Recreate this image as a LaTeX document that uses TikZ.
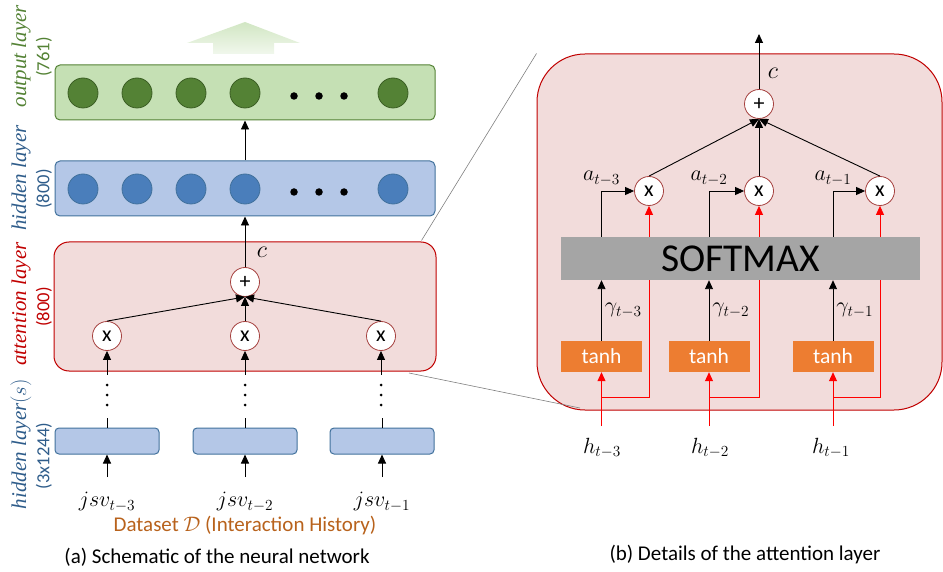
\documentclass[tikz,border=0pt]{standalone}
\usepackage{fix-cm}
\usepackage{amsmath}
\usepackage{fontspec}
\setmainfont{Carlito}
\newfontfamily\labfont{Liberation Serif}
\usepackage{tikz}
\usetikzlibrary{arrows.meta,calc,positioning}
\definecolor{attred}{HTML}{C00000}
\definecolor{attfill}{HTML}{F2DCDB}
\definecolor{opred}{HTML}{A5403E}
\definecolor{outfill}{HTML}{C5E0B4}
\definecolor{outgreen}{HTML}{548235}
\definecolor{outdark}{HTML}{3B5E24}
\definecolor{hidfill}{HTML}{B4C7E7}
\definecolor{hidline}{HTML}{41719C}
\definecolor{hidnode}{HTML}{4A7EBB}
\definecolor{hidtext}{HTML}{2E5C8A}
\definecolor{softgray}{HTML}{A5A5A5}
\definecolor{tanhorange}{HTML}{ED7D31}
\definecolor{databrown}{HTML}{B8621C}
\tikzset{
        layerbox/.style = {draw, rounded corners=5pt, line width=1pt,
            minimum width=380pt, minimum height=55pt},
        outbox/.style = {layerbox, fill=outfill, draw=outgreen},
        hidbox/.style = {layerbox, fill=hidfill, draw=hidline},
        inbox/.style = {draw=hidline, fill=hidfill, line width=1pt, rounded corners=4pt,
            minimum width=104pt, minimum height=26pt},
        outnode/.style = {circle, draw=outdark, fill=outgreen, line width=0.8pt, minimum size=30pt},
        hidnode/.style = {circle, draw=hidline, fill=hidnode, line width=0.8pt, minimum size=30pt},
        dotnode/.style = {circle, fill=black, inner sep=0pt, minimum size=7.5pt},
        smalldot/.style = {circle, fill=black, inner sep=0pt, minimum size=3pt},
        opnode/.style = {circle, draw=opred, fill=white, line width=0.8pt, minimum size=29pt,
            inner sep=0pt, font=\fontsize{22}{22}\selectfont},
        tanhbox/.style = {fill=tanhorange, text=white, minimum width=81pt, minimum height=31pt,
            font=\fontsize{21.5}{21.5}\selectfont},
        arrow/.style = {draw, line width=0.9pt, -{Triangle[length=9pt,width=8pt]}},
        redline/.style = {draw=red, line width=0.9pt},
        redarrow/.style = {redline, -{Triangle[length=9pt,width=8pt]}},
        zoomline/.style = {draw=black!50, line width=0.6pt},
        sidelab/.style = {rotate=90, font=\labfont\itshape\fontsize{21}{21}\selectfont},
        sidenum/.style = {rotate=90, font=\fontsize{18.5}{18.5}\selectfont},
        mathlab/.style = {font=\fontsize{22}{22}\selectfont, inner sep=1pt},
        clab/.style = {font=\fontsize{24}{24}\selectfont},
        caption/.style = {font=\fontsize{21}{21}\selectfont},
    }

\begin{document}
\begin{tikzpicture}[x=1pt,y=-1pt]
    \useasboundingbox (0,0) rectangle (943,572);

    % big output arrow
    \shade[top color=outfill!80, bottom color=outfill!25]
        (245,22) -- (300,43) -- (274,43) -- (274,54) -- (213,54) -- (213,43) -- (187,43) -- cycle;

    % output layer
    \node[outbox] (outl) at (245,92.5) {};
    \node[outnode] (o1) at (83,93) {};
    \node[outnode] (o2) at (137,93) {};
    \node[outnode] (o3) at (191,93) {};
    \node[outnode] (o4) at (245,93) {};
    \node[outnode] (o5) at (393,93) {};
    \node[dotnode] (od1) at (294,96) {};
    \node[dotnode] (od2) at (319,96) {};
    \node[dotnode] (od3) at (344,96) {};

    % hidden layer
    \node[hidbox] (hidl) at (245,188.5) {};
    \node[hidnode] (n1) at (83,189) {};
    \node[hidnode] (n2) at (137,189) {};
    \node[hidnode] (n3) at (191,189) {};
    \node[hidnode] (n4) at (245,189) {};
    \node[hidnode] (n5) at (393,189) {};
    \node[dotnode] (nd1) at (294,192) {};
    \node[dotnode] (nd2) at (319,192) {};
    \node[dotnode] (nd3) at (344,192) {};

    % attention layer
    \node[draw=attred, fill=attfill, line width=1pt, rounded corners=15pt,
        minimum width=382pt, minimum height=129pt] (attl) at (245,306.5) {};
    \node[opnode] (plus) at (245,282) {+};
    \node[opnode] (m1) at (107,336) {x};
    \node[opnode] (m2) at (245,336) {x};
    \node[opnode] (m3) at (381,336) {x};
    \node[clab] (cl) at (262,252) {$c$};

    % hidden layer(s)
    \node[inbox] (b1) at (107,441) {};
    \node[inbox] (b2) at (245,441) {};
    \node[inbox] (b3) at (382,441) {};
    \node[mathlab] (j1) at (107,502) {$jsv_{t-3}$};
    \node[mathlab] (j2) at (245,502) {$jsv_{t-2}$};
    \node[mathlab] (j3) at (382,502) {$jsv_{t-1}$};
    \coordinate (ji1) at (107,477);
    \coordinate (ji2) at (245,477);
    \coordinate (ji3) at (382,477);

    \draw[arrow] (hidl.north) -- (outl.south);
    \draw[arrow] (plus.north) -- (hidl.south);
    \draw[arrow] (m1.north) -- (plus.south);
    \draw[arrow] (m2.north) -- (plus.south);
    \draw[arrow] (m3.north) -- (plus.south);
    \draw[arrow] (ji1) -- (b1.south);
    \draw[arrow] (ji2) -- (b2.south);
    \draw[arrow] (ji3) -- (b3.south);

    % dotted links
    \draw[line width=0.9pt] (b1.north) -- ++(0,-10);
    \draw[line width=0.9pt] (b2.north) -- ++(0,-10);
    \draw[line width=0.9pt] (b3.north) -- ++(0,-10);
    \node[smalldot] (s11) at (107,385) {};
    \node[smalldot] (s12) at (107,395) {};
    \node[smalldot] (s13) at (107,405) {};
    \node[smalldot] (s21) at (245,385) {};
    \node[smalldot] (s22) at (245,395) {};
    \node[smalldot] (s23) at (245,405) {};
    \node[smalldot] (s31) at (381,385) {};
    \node[smalldot] (s32) at (381,395) {};
    \node[smalldot] (s33) at (381,405) {};
    \draw[arrow] ($(m1.south)+(0,24)$) -- (m1.south);
    \draw[arrow] ($(m2.south)+(0,24)$) -- (m2.south);
    \draw[arrow] ($(m3.south)+(0,24)$) -- (m3.south);

    \node[caption, text=databrown] (data) at (245,526) {Dataset $\mathcal{D}$ (Interaction History)};
    \node[caption] (capa) at (217,557) {(a) Schematic of the neural network};

    % side labels
    \node[sidelab, text=outgreen] (lo) at (21,56) {output layer};
    \node[sidenum, text=outgreen] (lon) at (44,57) {(761)};
    \node[sidelab, text=hidtext] (lh) at (21,178) {hidden layer};
    \node[sidenum, text=hidtext] (lhn) at (44,189) {(800)};
    \node[sidelab, text=attred] (la) at (21,304) {attention layer};
    \node[sidenum, text=attred] (lan) at (44,307) {(800)};
    \node[sidelab, text=hidtext] (ls) at (21,444) {hidden layer$(s)$};
    \node[sidenum, text=hidtext] (lsn) at (44,456) {(3x1244)};

    % detail of the attention layer
    \node[draw=attred, fill=attfill, line width=1pt, rounded corners=48pt,
        minimum width=405pt, minimum height=356pt] (detl) at (739.5,232) {};
    \draw[zoomline] (attl.north east) ++(-15,-1) -- (detl.north west) ++(8,26);
    \draw[zoomline] (409,373) -- (580,408);

    \node[opnode] (p2) at (759,104) {+};
    \coordinate (ctop) at (759,34);
    \node[clab] (c2) at (773,73) {$c$};
    \node[opnode] (q1) at (649,191) {x};
    \node[opnode] (q2) at (759,191) {x};
    \node[opnode] (q3) at (880,191) {x};

    \node[fill=softgray, minimum width=359pt, minimum height=43pt,
        font=\fontsize{39.5}{39.5}\selectfont] (sm) at (740.5,258.5) {SOFTMAX};
    \node[tanhbox] (t1) at (601.5,356.5) {tanh};
    \node[tanhbox] (t2) at (709,356.5) {tanh};
    \node[tanhbox] (t3) at (833,356.5) {tanh};

    \node[mathlab] (h1) at (602,448) {$h_{t-3}$};
    \node[mathlab] (h2) at (710,448) {$h_{t-2}$};
    \node[mathlab] (h3) at (831,448) {$h_{t-1}$};
    \coordinate (hi1) at (601.5,426);
    \coordinate (hi2) at (709,426);
    \coordinate (hi3) at (833,426);
    \coordinate (hj1) at (601.5,397);
    \coordinate (hj2) at (709,397);
    \coordinate (hj3) at (833,397);

    \draw[arrow] (p2.north) -- (ctop);
    \draw[arrow] (q1.north) -- (p2.south);
    \draw[arrow] (q2.north) -- (p2.south);
    \draw[arrow] (q3.north) -- (p2.south);

    \draw[arrow] (sm.north -| t1) |- (q1.west) node[pos=0.5, above=4pt, mathlab] {$a_{t-3}$};
    \draw[arrow] (sm.north -| t2) |- (q2.west) node[pos=0.5, above=4pt, mathlab] {$a_{t-2}$};
    \draw[arrow] (sm.north -| t3) |- (q3.west) node[pos=0.5, above=4pt, mathlab] {$a_{t-1}$};
    \draw[redarrow] (sm.north -| q1) -- (q1.south);
    \draw[redarrow] (sm.north -| q2) -- (q2.south);
    \draw[redarrow] (sm.north -| q3) -- (q3.south);

    \draw[arrow] (t1.north) -- (sm.south -| t1) node[midway, right=2pt, mathlab] {$\gamma_{t-3}$};
    \draw[arrow] (t2.north) -- (sm.south -| t2) node[midway, right=2pt, mathlab] {$\gamma_{t-2}$};
    \draw[arrow] (t3.north) -- (sm.south -| t3) node[midway, right=2pt, mathlab] {$\gamma_{t-1}$};

    \draw[redarrow] (hi1) -- (t1.south);
    \draw[redarrow] (hi2) -- (t2.south);
    \draw[redarrow] (hi3) -- (t3.south);
    \draw[redline] (hj1) -| (sm.south -| q1);
    \draw[redline] (hj2) -| (sm.south -| q2);
    \draw[redline] (hj3) -| (sm.south -| q3);

    \node[caption] (capb) at (745,555) {(b) Details of the attention layer};
\end{tikzpicture}
\end{document}
